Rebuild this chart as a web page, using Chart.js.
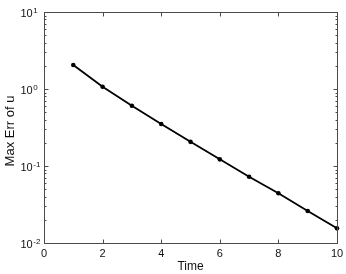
<!DOCTYPE html>
<html>
<head>
<meta charset="utf-8">
<script src="https://cdn.jsdelivr.net/npm/chart.js@4/dist/chart.umd.min.js"></script>
<style>
body { margin: 0; background: #fff; }
#wrap { width: 346px; height: 274px; }
</style>
</head>
<body>
<div id="wrap"><canvas id="myChart"></canvas></div>
<script>
// values
var times = [1, 2, 3, 4, 5, 6, 7, 8, 9, 10];
var maxErr = [2.05, 1.07, 0.607, 0.351, 0.206, 0.122, 0.0726, 0.0442, 0.026, 0.0155];
var xTicks = [0, 2, 4, 6, 8, 10];
var yTicks = [0.01, 0.1, 1, 10];
var yExponents = ['-2', '-1', '0', '1'];

var FONT = '"Liberation Sans", Arial, Helvetica, sans-serif';
var AXIS = '#4a4a4a';

// matlab style box, inward ticks and labels
var matlabAxes = {
    id: 'matlabAxes',
    afterDraw: function (chart) {
        var c = chart.ctx;
        var a = chart.chartArea;
        var xs = chart.scales.x, ys = chart.scales.y;
        var L = Math.round(a.left) + 0.5, R = Math.round(a.right) + 0.5;
        var T = Math.round(a.top) + 0.5, B = Math.round(a.bottom) + 0.5;
        c.save();
        c.strokeStyle = AXIS;
        c.lineWidth = 1;
        c.strokeRect(L, T, R - L, B - T);
        c.beginPath();
        xTicks.forEach(function (v) {
            var px = Math.round(xs.getPixelForValue(v)) + 0.5;
            c.moveTo(px, B); c.lineTo(px, B - 4);
            c.moveTo(px, T); c.lineTo(px, T + 4);
        });
        for (var e = -2; e <= 0; e++) {
            for (var m = 1; m <= 9; m++) {
                var v = m * Math.pow(10, e);
                var py = Math.round(ys.getPixelForValue(v)) + 0.5;
                var len = m === 1 ? 4 : 2;
                c.moveTo(L, py); c.lineTo(L + len, py);
                c.moveTo(R, py); c.lineTo(R - len, py);
            }
        }
        c.stroke();

        c.fillStyle = '#111';
        c.font = '11px ' + FONT;
        c.textAlign = 'center';
        c.textBaseline = 'alphabetic';
        xTicks.forEach(function (v) {
            c.fillText(String(v), xs.getPixelForValue(v), 257);
        });
        c.textAlign = 'left';
        yTicks.forEach(function (v, i) {
            var py = ys.getPixelForValue(v);
            c.font = '11px ' + FONT;
            c.fillText('10', 20.5, py + 5);
            var w = c.measureText('10').width;
            c.font = '8px ' + FONT;
            c.fillText(yExponents[i], 20.5 + w + 0.5, py + 1);
        });

        c.font = '12px ' + FONT;
        c.textAlign = 'center';
        c.fillText('Time', (a.left + a.right) / 2, 269.5);
        c.translate(14, 131);
        c.rotate(-Math.PI / 2);
        c.font = '13px ' + FONT;
        c.textBaseline = 'alphabetic';
        c.fillText('Max Err of u', 0, 0);
        c.restore();
    }
};

var ctx = document.getElementById('myChart').getContext('2d');
var myChart = new Chart(ctx, {
    type: 'line',
    data: {
        labels: times,
        datasets: [{
            data: times.map(function (t, i) { return { x: t, y: maxErr[i] }; }),
            borderColor: '#000',
            backgroundColor: '#000',
            borderWidth: 1.8,
            pointRadius: 2.3,
            pointHoverRadius: 2.3,
            pointBorderWidth: 0,
            tension: 0,
            clip: false
        }]
    },
    options: {
        responsive: true,
        maintainAspectRatio: false,
        animation: false,
        events: [],
        layout: { padding: { top: 12, right: 9, left: 0, bottom: 0 } },
        plugins: {
            legend: { display: false },
            tooltip: { enabled: false }
        },
        scales: {
            x: {
                type: 'linear',
                min: 0,
                max: 10,
                grid: { display: false },
                border: { display: false },
                ticks: { display: false },
                afterFit: function (s) { s.height = 31; }
            },
            y: {
                type: 'logarithmic',
                min: 0.01,
                max: 10,
                grid: { display: false },
                border: { display: false },
                ticks: { display: false },
                afterFit: function (s) { s.width = 44; }
            }
        }
    },
    plugins: [matlabAxes]
});
</script>
</body>
</html>
